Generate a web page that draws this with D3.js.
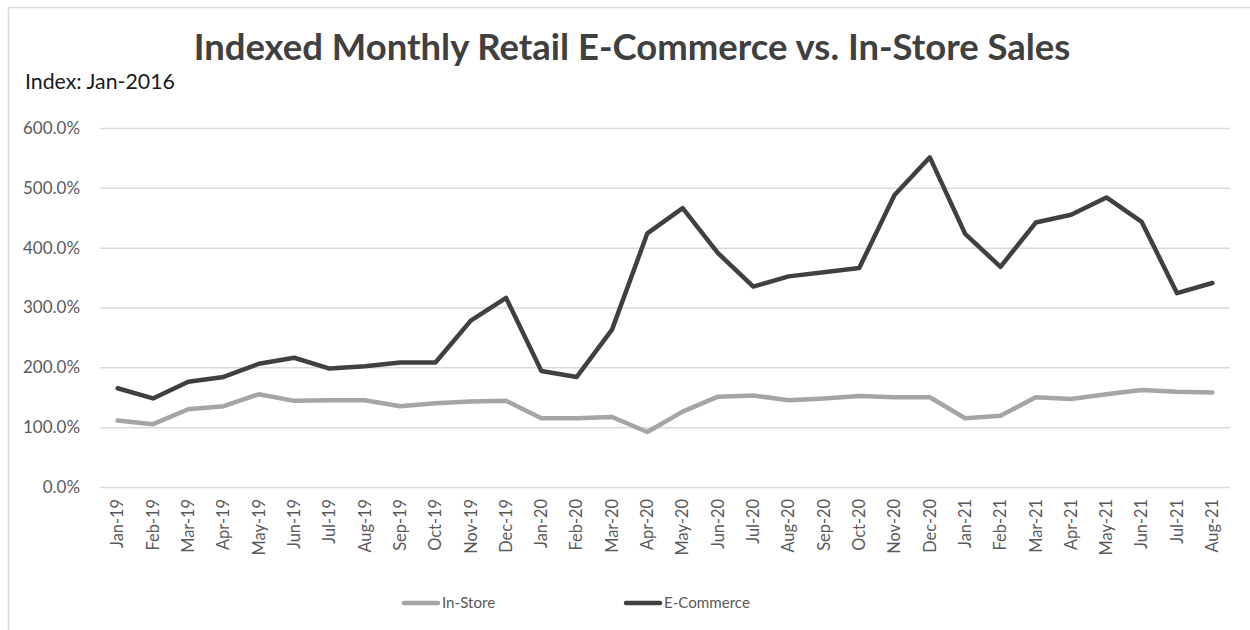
<!DOCTYPE html>
<html>
<head>
<meta charset="utf-8">
<script src="https://cdn.jsdelivr.net/npm/d3@7"></script>
<style>
  html, body { margin: 0; padding: 0; background: #fff; }
  svg { display: block; }
</style>
</head>
<body>
<svg id="chart" width="1250" height="630"></svg>
<script>
// Monthly categories, Jan-2019 .. Aug-2021
const months = ["Jan-19","Feb-19","Mar-19","Apr-19","May-19","Jun-19","Jul-19","Aug-19","Sep-19","Oct-19","Nov-19","Dec-19",
  "Jan-20","Feb-20","Mar-20","Apr-20","May-20","Jun-20","Jul-20","Aug-20","Sep-20","Oct-20","Nov-20","Dec-20",
  "Jan-21","Feb-21","Mar-21","Apr-21","May-21","Jun-21","Jul-21","Aug-21"];

// Index values (percent of Jan-2016)
const inStore = [111,105,130,135,155,144,145,145,135,140,143,144,
  115,115,117,92,126,151,153,145,148,152,150,150,
  115,119,150,147,155,162,159,158];
const eCommerce = [165,148,176,184,206,216,198,202,208,208,278,316,
  194,184,263,424,466,391,335,352,359,366,488,551,
  423,368,442,455,484,443,324,341];

const yTicks = [0,100,200,300,400,500,600];

const seriesNames = ["In-Store","E-Commerce"];
const seriesColors = ["#a5a5a5","#404040"];

const svg = d3.select("#chart");
const font = "Lato, Calibri, 'Open Sans', 'Noto Sans', sans-serif";

// Size a text selection so that a reference string spans the given width
function fitFont(sel, baseSize, sample, targetWidth) {
  const probe = svg.append("text").attr("font-family", font)
    .attr("font-size", baseSize).text(sample);
  const w = probe.node().getComputedTextLength();
  probe.remove();
  const size = w > 0 ? baseSize * targetWidth / w : baseSize;
  sel.attr("font-size", size);
  return size;
}

// Outer chart frame
svg.append("rect")
  .attr("x", 8.5).attr("y", 7.5)
  .attr("width", 1260).attr("height", 640)
  .attr("fill", "none").attr("stroke", "#d9d9d9").attr("stroke-width", 1.5);

const plot = { left: 100, right: 1230, top: 128, bottom: 487 };

const x = d3.scaleBand().domain(months).range([plot.left, plot.right]);
const y = d3.scaleLinear().domain([0, 600]).range([plot.bottom, plot.top]);
const cx = m => x(m) + x.bandwidth() / 2;

// Horizontal gridlines and y labels
const yAxis = d3.axisLeft(y).tickValues(yTicks)
  .tickSize(-(plot.right - plot.left))
  .tickPadding(20)
  .tickFormat(d => d3.format(".1f")(d) + "%");
const gy = svg.append("g").attr("transform", `translate(${plot.left},0)`).call(yAxis);
gy.select(".domain").remove();
gy.selectAll(".tick line").attr("stroke", "#d9d9d9").attr("stroke-width", 1.5);
const yLabels = gy.selectAll(".tick text")
  .attr("fill", "#595959").attr("font-family", font);
fitFont(yLabels, 16, "600.0%", 57);

// X axis with rotated month labels
const xAxis = d3.axisBottom(x).tickSize(0).tickPadding(0);
const gx = svg.append("g").attr("transform", `translate(0,${plot.bottom})`).call(xAxis);
gx.select(".domain").remove();
const xLabels = gx.selectAll(".tick text")
  .attr("fill", "#595959").attr("font-family", font)
  .attr("text-anchor", "end")
  .attr("dy", "0.35em")
  .attr("transform", "translate(0,12) rotate(-90)");
fitFont(xLabels, 15, "Jan-19", 49);

// Series lines
const line = d3.line().x((d, i) => cx(months[i])).y(d => y(d));
[inStore, eCommerce].forEach((vals, k) => {
  svg.append("path")
    .datum(vals)
    .attr("d", line)
    .attr("fill", "none")
    .attr("stroke", seriesColors[k])
    .attr("stroke-width", 4.5)
    .attr("stroke-linejoin", "round")
    .attr("stroke-linecap", "round");
});

// Title
const title = svg.append("text")
  .attr("x", 632).attr("y", 60)
  .attr("text-anchor", "middle")
  .attr("font-family", font).attr("font-weight", "bold")
  .attr("font-size", 31).attr("fill", "#404040")
  .text("Indexed Monthly Retail E-Commerce vs. In-Store Sales");
const tw = title.node().getComputedTextLength();
if (tw > 0) title.attr("font-size", 31 * 877 / tw);

// Index note
const note = svg.append("text")
  .attr("x", 25).attr("y", 89)
  .attr("font-family", font).attr("fill", "#1a1a1a")
  .text("Index: Jan-2016");
fitFont(note, 19, "Index: Jan-2016", 150);

// Legend
const legendItems = [
  { name: seriesNames[0], color: seriesColors[0], x: 404 },
  { name: seriesNames[1], color: seriesColors[1], x: 626 }
];
const lg = svg.append("g");
legendItems.forEach(it => {
  lg.append("line")
    .attr("x1", it.x).attr("x2", it.x + 34)
    .attr("y1", 603).attr("y2", 603)
    .attr("stroke", it.color).attr("stroke-width", 4.5)
    .attr("stroke-linecap", "round");
  const t = lg.append("text")
    .attr("x", it.x + 38).attr("y", 603)
    .attr("dy", "0.35em")
    .attr("font-family", font).attr("fill", "#595959")
    .text(it.name);
  fitFont(t, 16, "E-Commerce", 86);
});
</script>
</body>
</html>
